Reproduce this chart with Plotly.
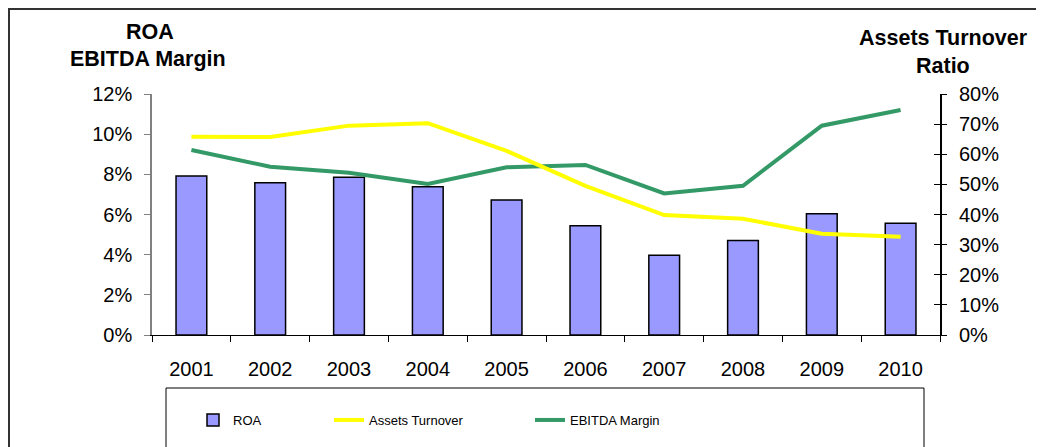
import plotly.graph_objects as go

years = ["2001", "2002", "2003", "2004", "2005", "2006", "2007", "2008", "2009", "2010"]
roa = [7.92, 7.58, 7.85, 7.38, 6.72, 5.44, 3.97, 4.70, 6.04, 5.56]
ebitda_margin = [9.21, 8.38, 8.08, 7.52, 8.35, 8.47, 7.05, 7.43, 10.42, 11.20]
assets_turnover = [65.8, 65.7, 69.5, 70.3, 61.1, 49.5, 39.8, 38.6, 33.6, 32.6]

left_ticks = [0, 2, 4, 6, 8, 10, 12]
right_ticks = [0, 10, 20, 30, 40, 50, 60, 70, 80]
left_labels = [f"{v}%" for v in left_ticks]
right_labels = [f"{v}%" for v in right_ticks]

FONT = "Liberation Sans, Arial, sans-serif"

fig = go.Figure()
fig.add_trace(go.Bar(
    x=years, y=roa, name="ROA", yaxis="y", legend="legend",
    marker=dict(color="#9999FF", line=dict(color="#000000", width=1.5)),
))
fig.add_trace(go.Scatter(
    x=years, y=assets_turnover, name="Assets Turnover", yaxis="y2", legend="legend2",
    mode="lines", line=dict(color="#FFFF00", width=4),
))
fig.add_trace(go.Scatter(
    x=years, y=ebitda_margin, name="EBITDA Margin", yaxis="y", legend="legend3",
    mode="lines", line=dict(color="#339966", width=4),
))
# carrier for the outer tick marks/labels of the right axis
fig.add_trace(go.Scatter(
    x=years, y=assets_turnover, yaxis="y3", showlegend=False, hoverinfo="skip",
    mode="lines", line=dict(color="rgba(0,0,0,0)", width=0),
))

OFF = 8  # page body margin
W, H = 1044 - OFF, 447 - OFF
L, T = 152 - OFF, 94 - OFF
R = W - (940 - OFF)
B = H - (335 - OFF)
pw, ph = W - L - R, H - T - B

def px_x(x):
    return (x - OFF - L) / pw

def px_y(y):
    return (H - B - (y - OFF)) / ph

legend_common = dict(
    orientation="h", bgcolor="rgba(0,0,0,0)", borderwidth=0,
    font=dict(family=FONT, size=13, color="#000000"),
    yanchor="middle", xanchor="left", itemwidth=30,
)

fig.update_layout(
    width=W, height=H,
    margin=dict(l=L, r=R, t=T, b=B),
    paper_bgcolor="white", plot_bgcolor="white",
    font=dict(family=FONT, size=20, color="#000000"),
    bargap=0.61,
    xaxis=dict(
        type="category", showline=True, linecolor="#000000", linewidth=1,
        ticks="outside", ticklen=6, tickcolor="#000000", tickson="boundaries",
        tickfont=dict(size=20), ticklabelstandoff=16, showgrid=False,
    ),
    yaxis=dict(
        range=[0, 12], tickmode="array", tickvals=left_ticks, ticktext=left_labels,
        showline=True, linecolor="#808080", linewidth=1.5,
        ticks="outside", ticklen=6, tickcolor="#808080",
        showgrid=False, zeroline=False, tickfont=dict(size=20),
        ticklabelstandoff=8,
    ),
    yaxis2=dict(
        range=[0, 80], tickmode="array", tickvals=right_ticks, overlaying="y", side="right",
        showline=True, linecolor="#000000", linewidth=1.5,
        ticks="inside", ticklen=6, tickcolor="#000000",
        showticklabels=False, showgrid=False, zeroline=False,
    ),
    yaxis3=dict(
        range=[0, 80], tickmode="array", tickvals=right_ticks, ticktext=right_labels,
        overlaying="y", side="right",
        showline=False, ticks="outside", ticklen=6, tickcolor="#000000",
        showgrid=False, zeroline=False, tickfont=dict(size=20),
        ticklabelstandoff=8,
    ),
    legend=dict(x=px_x(193), y=px_y(420), **legend_common),
    legend2=dict(x=px_x(329), y=px_y(420), **legend_common),
    legend3=dict(x=px_x(530), y=px_y(420), **legend_common),
    showlegend=True,
)

# outer chart frame
fig.add_shape(type="rect", xref="paper", yref="paper",
              x0=px_x(9), x1=px_x(1080), y0=px_y(480), y1=px_y(9),
              line=dict(color="#333333", width=2), fillcolor="rgba(0,0,0,0)", layer="below")
# legend box
fig.add_shape(type="rect", xref="paper", yref="paper",
              x0=px_x(166), x1=px_x(924), y0=px_y(480), y1=px_y(388),
              line=dict(color="#000000", width=1), fillcolor="rgba(0,0,0,0)", layer="below")

title_font = dict(family=FONT, size=21.5, color="#000000")
for text, cx, cy in [("<b>ROA</b>", 150, 32), ("<b>EBITDA Margin</b>", 148, 59),
                     ("<b>Assets Turnover</b>", 943, 38), ("<b>Ratio</b>", 943, 66)]:
    fig.add_annotation(text=text, xref="paper", yref="paper", x=px_x(cx), y=px_y(cy),
                       xanchor="center", yanchor="middle", showarrow=False, font=title_font)

fig.write_html("out.html")
